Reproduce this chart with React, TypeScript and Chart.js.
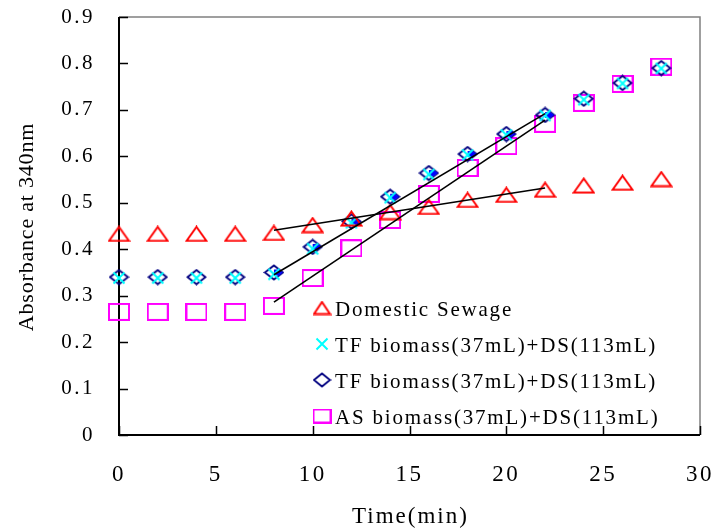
import React, { useEffect, useRef } from 'react';
import { Chart, registerables } from 'chart.js';

Chart.register(...registerables);

// ---------- data ----------
const times = [0, 2, 4, 6, 8, 10, 12, 14, 16, 18, 20, 22, 24, 26, 28];
const seriesLabels = [
  'Domestic Sewage',
  'TF biomass(37mL)+DS(113mL)',
  'TF biomass(37mL)+DS(113mL)',
  'AS biomass(37mL)+DS(113mL)',
];
const domesticSewage = [0.433, 0.433, 0.433, 0.433, 0.435, 0.452, 0.466, 0.48, 0.491, 0.506, 0.517, 0.528, 0.537, 0.543, 0.551];
const tfCross = [0.338, 0.338, 0.338, 0.338, 0.346, 0.401, 0.457, 0.511, 0.561, 0.603, 0.646, 0.688, 0.722, 0.757, 0.789];
const tfDiamond = [0.340, 0.340, 0.340, 0.340, 0.350, 0.405, 0.460, 0.513, 0.564, 0.605, 0.648, 0.689, 0.724, 0.758, 0.790];
const asSquare = [0.265, 0.265, 0.265, 0.265, 0.278, 0.338, 0.402, 0.463, 0.519, 0.575, 0.622, 0.670, 0.715, 0.756, 0.793];
// small filled blue marks seen next to the diamonds in the fitted range
const tfFilledTimes = [8, 10, 12, 14, 16, 18, 20, 22];
const tfFilled = [0.350, 0.405, 0.460, 0.513, 0.564, 0.605, 0.648, 0.689];
// fitted trend lines (start, end)
const trendTimes = [8, 22];
const trendDS = [0.441, 0.532];
const trendTF = [0.345, 0.692];
const trendAS = [0.286, 0.678];

const xTitle = 'Time(min)';
const yTitle = 'Absorbance at 340nm';

const SERIF = '"Liberation Serif", "Times New Roman", serif';

// ---------- marker images ----------
function mk(w: number, h: number, draw: (g: CanvasRenderingContext2D) => void) {
  const c = document.createElement('canvas');
  c.width = w;
  c.height = h;
  const g = c.getContext('2d')!;
  draw(g);
  return c;
}
const triangle = (w: number, h: number) =>
  mk(w, h, (g) => {
    g.strokeStyle = '#FF0000';
    g.lineWidth = 2;
    g.beginPath();
    g.moveTo(w / 2, 1.5);
    g.lineTo(w - 1.5, h - 1.5);
    g.lineTo(1.5, h - 1.5);
    g.closePath();
    g.stroke();
  });
const cross = (s: number) =>
  mk(s, s, (g) => {
    g.strokeStyle = '#00FFFF';
    g.lineWidth = 2;
    g.beginPath();
    g.moveTo(1.5, 1.5);
    g.lineTo(s - 1.5, s - 1.5);
    g.moveTo(s - 1.5, 1.5);
    g.lineTo(1.5, s - 1.5);
    g.stroke();
  });
const diamond = (w: number, h: number) =>
  mk(w, h, (g) => {
    g.strokeStyle = '#000080';
    g.lineWidth = 1.8;
    g.beginPath();
    g.moveTo(1.5, h / 2);
    g.lineTo(w / 2, 1.5);
    g.lineTo(w - 1.5, h / 2);
    g.lineTo(w / 2, h - 1.5);
    g.closePath();
    g.stroke();
  });
const square = (w: number, h: number) =>
  mk(w, h, (g) => {
    g.strokeStyle = '#FF00FF';
    g.lineWidth = 2;
    g.strokeRect(1, 1, w - 2, h - 2);
  });
const wedge = () =>
  mk(22, 10, (g) => {
    g.fillStyle = '#0000FF';
    g.beginPath();
    g.moveTo(11, 2);
    g.lineTo(16, 2);
    g.lineTo(20, 5);
    g.lineTo(16, 8);
    g.lineTo(11, 8);
    g.closePath();
    g.fill();
  });

const pts = (xs: number[], ys: number[]) => xs.map((x, i) => ({ x, y: ys[i] }));

const noPad = (s: any) => {
  s.paddingTop = 0;
  s.paddingBottom = 0;
  s.paddingLeft = 0;
  s.paddingRight = 0;
};

export default function App() {
  const ref = useRef<HTMLCanvasElement | null>(null);

  useEffect(() => {
    if (!ref.current) return;
    const mTri = triangle(23, 17);
    const mCross = cross(14);
    const mDia = diamond(21, 17);
    const mSq = square(22, 18);
    const mWedge = wedge();
    const legendMarks = [triangle(19, 15), cross(14), diamond(19, 16), square(19, 15)];

    const trendStyle = {
      showLine: true,
      borderColor: '#000',
      borderWidth: 1.6,
      pointRadius: 0,
      clip: false as const,
    };
    const pointDs = (data: any, style: any) => ({
      data,
      showLine: false,
      pointStyle: style,
      pointRadius: 10,
      clip: false as const,
    });

    const frame = {
      id: 'frame',
      beforeDatasetsDraw(chart: any) {
        const { ctx, chartArea: a, scales } = chart;
        ctx.save();
        ctx.letterSpacing = '0px';
        ctx.strokeStyle = '#808080';
        ctx.lineWidth = 1.5;
        ctx.beginPath();
        ctx.moveTo(a.left, a.top);
        ctx.lineTo(a.right, a.top);
        ctx.lineTo(a.right, a.bottom);
        ctx.stroke();
        ctx.strokeStyle = '#000';
        ctx.lineWidth = 2;
        ctx.beginPath();
        ctx.moveTo(a.left, a.top);
        ctx.lineTo(a.left, a.bottom);
        ctx.lineTo(a.right, a.bottom);
        ctx.stroke();
        ctx.lineWidth = 1.5;
        ctx.beginPath();
        scales.y.ticks.forEach((t: any) => {
          const y = Math.round(scales.y.getPixelForValue(t.value)) + 0.5;
          ctx.moveTo(a.left, y);
          ctx.lineTo(a.left + 9, y);
        });
        scales.x.ticks.forEach((t: any) => {
          const x = Math.round(scales.x.getPixelForValue(t.value)) + 0.5;
          ctx.moveTo(x, a.bottom);
          ctx.lineTo(x, a.bottom - 9);
        });
        ctx.stroke();
        ctx.restore();
      },
    };
    const spacing = {
      id: 'spacing',
      beforeDraw(chart: any) {
        chart.ctx.letterSpacing = '2.5px';
      },
      afterDraw(chart: any) {
        chart.ctx.letterSpacing = '0px';
      },
    };
    const titlesAndLegend = {
      id: 'titlesAndLegend',
      afterDraw(chart: any) {
        const { ctx, chartArea: a } = chart;
        ctx.save();
        ctx.fillStyle = '#000';
        // axis titles
        ctx.textAlign = 'center';
        ctx.textBaseline = 'middle';
        ctx.letterSpacing = '2px';
        ctx.font = `23px ${SERIF}`;
        ctx.fillText(xTitle, (a.left + a.right) / 2 + 1, 517);
        ctx.save();
        ctx.letterSpacing = '0.8px';
        ctx.font = `22px ${SERIF}`;
        ctx.translate(27.5, (a.top + a.bottom) / 2 + 1);
        ctx.rotate(-Math.PI / 2);
        ctx.fillText(yTitle, 0, 0);
        ctx.restore();
        // legend
        ctx.letterSpacing = '1.8px';
        ctx.font = `21px ${SERIF}`;
        ctx.textAlign = 'left';
        ctx.textBaseline = 'alphabetic';
        const mx = a.left + 203;
        const tx = a.left + 216;
        seriesLabels.forEach((label, i) => {
          const base = a.top + 299 + i * 36;
          const m = legendMarks[i];
          ctx.drawImage(m, mx - m.width / 2, base - 8 - m.height / 2);
          ctx.fillText(label, tx, base);
        });
        ctx.restore();
      },
    };

    const chart = new Chart(ref.current, {
      type: 'scatter',
      data: {
        datasets: [
          { ...trendStyle, data: pts(trendTimes, trendDS) },
          { ...trendStyle, data: pts(trendTimes, trendTF) },
          { ...trendStyle, data: pts(trendTimes, trendAS) },
          { label: seriesLabels[0], ...pointDs(pts(times, domesticSewage), mTri) },
          { label: seriesLabels[1], ...pointDs(pts(times, tfCross), mCross) },
          { ...pointDs(pts(tfFilledTimes, tfFilled), mWedge) },
          { label: seriesLabels[2], ...pointDs(pts(times, tfDiamond), mDia) },
          { label: seriesLabels[3], ...pointDs(pts(times, asSquare), mSq) },
        ] as any,
      },
      options: {
        animation: false,
        responsive: false,
        devicePixelRatio: 1,
        layout: { padding: { top: 17, right: 15, left: 0, bottom: 0 } },
        plugins: { legend: { display: false }, tooltip: { enabled: false } },
        events: [],
        scales: {
          x: {
            type: 'linear',
            min: 0,
            max: 30,
            afterFit: (s: any) => {
              s.height = 97;
              noPad(s);
            },
            grid: { display: false, drawTicks: false },
            border: { display: false },
            ticks: {
              stepSize: 5,
              autoSkip: false,
              maxRotation: 0,
              padding: 26,
              color: '#000',
              font: { family: SERIF, size: 23 },
            },
            title: { display: false, text: xTitle },
          },
          y: {
            min: 0,
            max: 0.9,
            afterFit: (s: any) => {
              s.width = 119;
              noPad(s);
            },
            grid: { display: false, drawTicks: false },
            border: { display: false },
            ticks: {
              stepSize: 0.1,
              autoSkip: false,
              padding: 24,
              color: '#000',
              font: { family: SERIF, size: 21 },
              callback: (v: any) => String(Math.round(Number(v) * 10) / 10),
            },
            title: { display: false, text: yTitle },
          },
        },
      },
      plugins: [spacing, frame, titlesAndLegend],
    });
    return () => chart.destroy();
  }, []);

  return (
    <div style={{ position: 'absolute', left: 0, top: 0, width: 715, height: 532, background: '#fff' }}>
      <canvas ref={ref} width={715} height={532} />
    </div>
  );
}
